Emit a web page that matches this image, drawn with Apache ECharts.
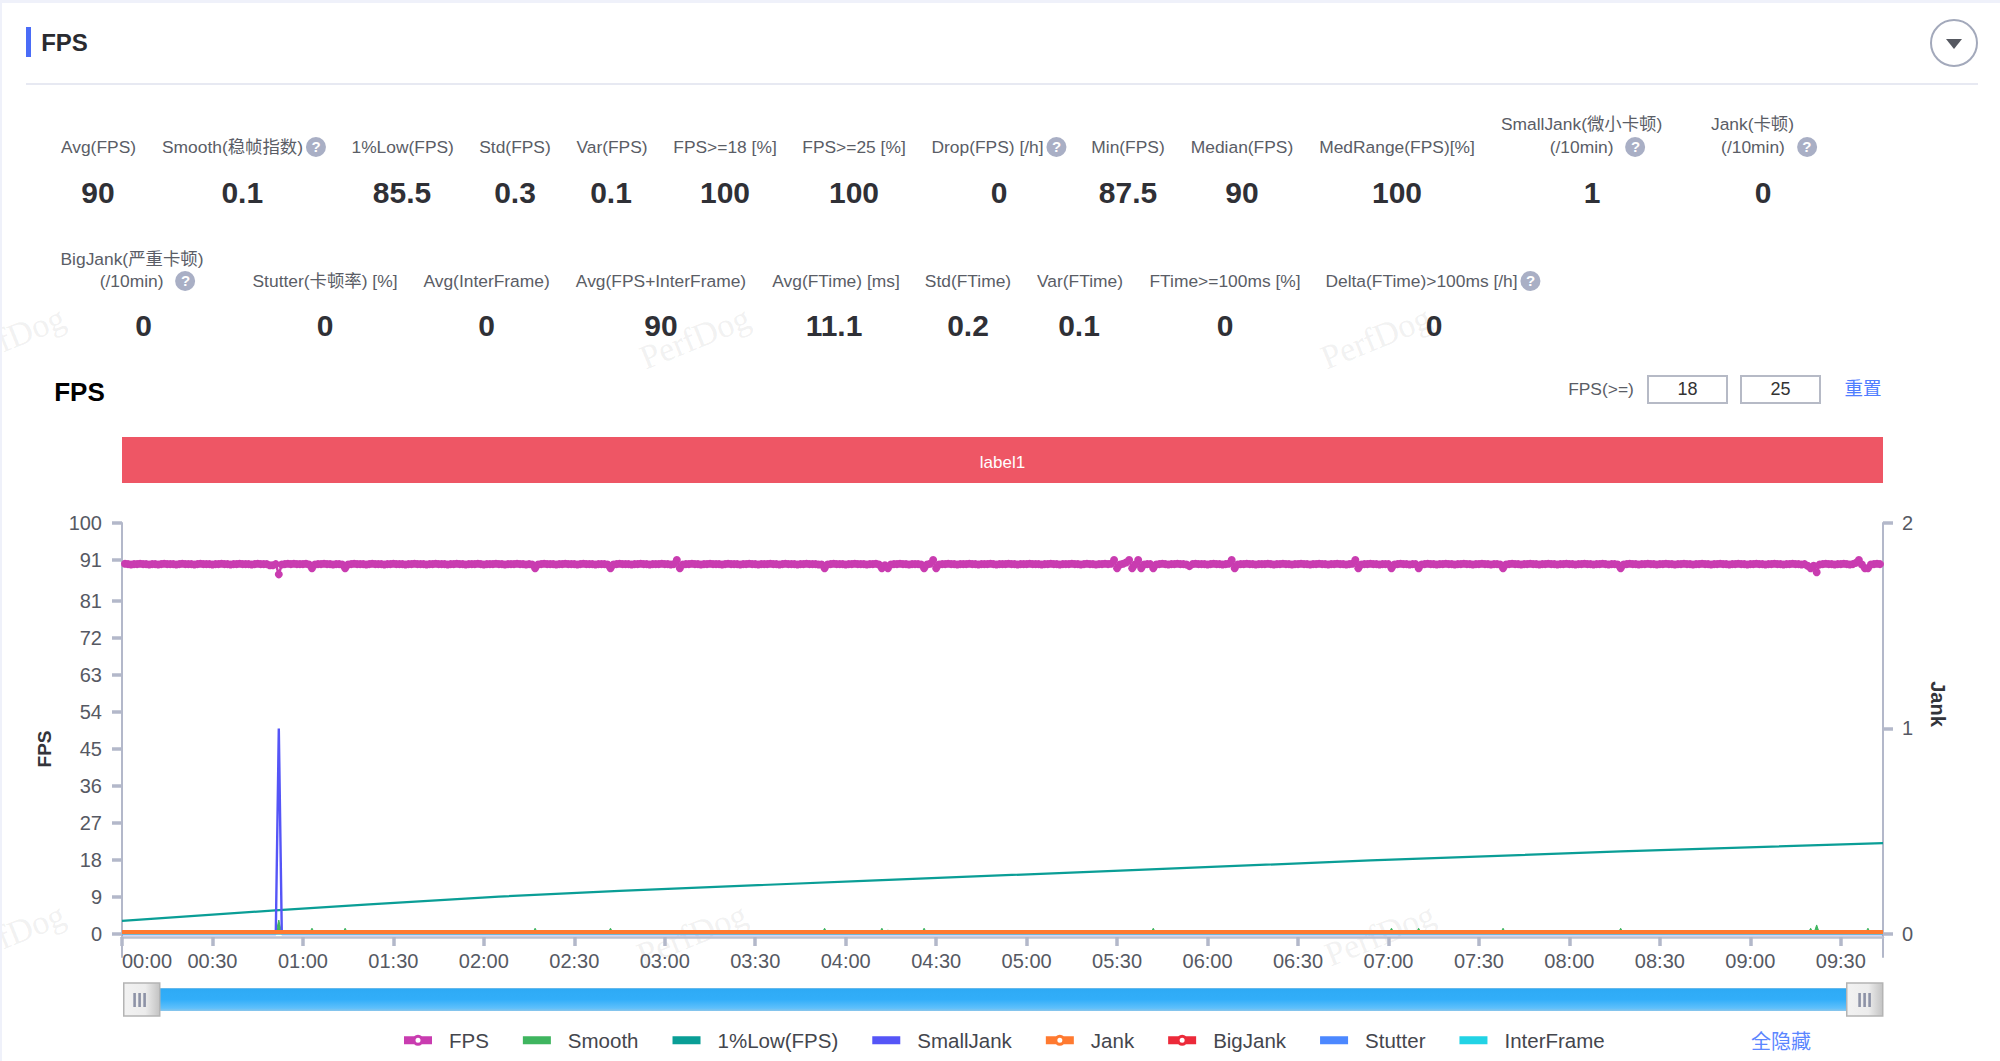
<!DOCTYPE html>
<html><head><meta charset="utf-8">
<script src="https://cdn.jsdelivr.net/npm/echarts@6/dist/echarts.min.js"></script>
<style>
html,body{margin:0;padding:0;background:#fff;width:2000px;height:1061px;overflow:hidden;font-family:"Liberation Sans","Noto Sans CJK SC",sans-serif}
#page{position:relative;width:2000px;height:1061px}
#chart{position:absolute;left:0;top:0;width:2000px;height:1061px}
.abs{position:absolute;white-space:pre}
.c{transform:translate(-50%,-50%)}
.lbl{font-size:17.4px;color:#5a5d66;line-height:20px}
.val{font-size:30px;font-weight:bold;color:#2f3036}
.help{display:inline-block;width:20px;height:20px;border-radius:50%;background:#a9afc5;color:#fff;font-size:15px;line-height:20px;text-align:center;font-weight:bold;vertical-align:top}
.wm{font-family:"Liberation Serif",serif;font-size:34px;color:rgba(120,120,120,.11);transform:translate(-50%,-50%) rotate(-22deg)}
.box{border:2px solid #b6bac6;box-sizing:border-box;text-align:center;font-size:18px;color:#333;line-height:25px}
</style></head><body><div id="page"><div id="chart"></div></div>
<script>
// ---- panel text ----
const row1Labels=["Avg(FPS)","Smooth(稳帧指数)?","1%Low(FPS)","Std(FPS)","Var(FPS)","FPS>=18 [%]","FPS>=25 [%]","Drop(FPS) [/h]?","Min(FPS)","Median(FPS)","MedRange(FPS)[%]","SmallJank(微小卡顿)\n(/10min)?","Jank(卡顿)\n(/10min)?"];
const row1Values=["90","0.1","85.5","0.3","0.1","100","100","0","87.5","90","100","1","0"];
const row2Labels=["BigJank(严重卡顿)\n(/10min)?","Stutter(卡顿率) [%]","Avg(InterFrame)","Avg(FPS+InterFrame)","Avg(FTime) [ms]","Std(FTime)","Var(FTime)","FTime>=100ms [%]","Delta(FTime)>100ms [/h]?"];
const row2Values=["0","0","0","90","11.1","0.2","0.1","0","0"];
const thresholdValues=["18","25"];
// ---- chart data ----
const timeTicks=["00:00","00:30","01:00","01:30","02:00","02:30","03:00","03:30","04:00","04:30","05:00","05:30","06:00","06:30","07:00","07:30","08:00","08:30","09:00","09:30"];
const timeTickSeconds=[0,30,60,90,120,150,180,210,240,270,300,330,360,390,420,450,480,510,540,570];
const fpsTicks=[0,9,18,27,36,45,54,63,72,81,91,100];
const jankTicks=[0,1,2];
const durationSeconds=584;
const laneNames=["label1"];
const laneValues=[584];
// one FPS reading per second, ten per row
const fpsValues=[
90,90.1,90,89.9,90,90,90.1,90,90,89.9,
90,90,89.9,90,90.1,90,90,90,89.9,90,
90.1,90,90,90,89.9,90,90.1,90,90,90,
89.9,90,90,90.1,90,90,89.9,90,90,90.1,
90,90,90,89.9,90,90.1,90,90,90,89.7,
89.7,90,87.5,89.9,90,90.1,90,90.1,90,90,
90,90.1,89.9,89,89.9,90,90,90.1,90,90,
89.9,90,90,89.9,89,89.9,90,90.1,90,90,
90,89.9,90,90.1,90,90,90,89.9,90,90,
90.1,90,90,90,89.9,90,90,90.1,90,90,
90,89.9,90,90,90.1,90,90,90,89.9,90,
90,90.1,90,90,89.9,90,90,90,90.1,90,
89.9,90,90,90,90.1,90,90,89.9,90,90,
90,90.1,90,90,89.9,90,89.9,89,89.9,90,
90.1,90,90,90,89.9,90,90,90.1,90,90,
90,89.9,90,90.1,90,90,90,89.9,90,90,
90,89.9,89,89.9,90,90.1,90,90,90,89.9,
90,90,90.1,90,90,89.9,90,90,90,90.1,
90,90,89.9,90,91,89,89.9,90,90,90.1,
90,90,89.9,90,90,90.1,90,90,90,89.9,
90,90.1,90,90,90,89.9,90,90,90.1,90,
90,89.9,90,90,90,90.1,90,90,89.9,90,
90.1,90,90,90,89.9,90,90,90.1,90,90,
90,89.9,89.9,89,89.9,90,90.1,90,90,90,
89.9,90,90,90.1,90,90,90,89.9,90,90,
90.1,89.9,89,89.7,89,89.9,90,90,90.1,90,
90,89.9,90,90,90,89.9,89,89.9,90.1,91,
89,89.9,90,90,90.1,90,90,89.9,90,90,
90,90.1,90,90,89.9,90,90,90,90.1,90,
89.9,90,90,90,90.1,90,90,89.9,90,90,
90,90.1,90,90,90,89.9,90,90,90.1,90,
90,89.9,90,90,90,90.1,90,90,89.9,90,
90.1,90,90,89.9,90,90,90.1,90,90.1,91,
89,89.9,90.1,90.4,91,89,89.9,91,89,89.9,
90,90,89,89.9,90,90.1,90,89.9,90,90,
90.1,90,90,89.9,89.5,90,90.1,90,90,90,
89.9,90,90.1,90,90,89.9,90,90.1,91,89,
89.9,90,90,90.1,90,90,89.9,90,90,90,
90.1,90,89.9,90,90,90.1,90,90,89.9,90,
90,90.1,90,90,89.9,90,90,90.1,90,90,
89.9,90,90,90.1,90,90,89.9,90,90.1,91,
89,89.9,90,90,90.1,90,90,89.9,90,90,
90,89,89.9,90,90.1,90,90,89.9,90,90,
89,89.9,90,90.1,90,90,89.9,90,90,90.1,
90,90,89.9,90,90,90.1,90,90,89.9,90,
90,90.1,90,90,89.9,90,90,89.9,89,89.9,
90,90.1,90,90,89.9,90,90,90.1,90,90,
89.9,90,90,90.1,90,90,89.9,90,90,90.1,
90,90,89.9,90,90,90.1,90,90,89.9,90,
90,90.1,90,89.9,90,90,89.9,89,89.9,90,
90.1,90,90,89.9,90,90,90.1,90,90,89.9,
90,90,90.1,90,90,89.9,90,90,90.1,90,
90,89.9,90,90,90.1,90,90,89.9,90,90,
90.1,90,90,89.9,90,90,90.1,90,90,89.9,
90,90,90.1,90,90,89.9,90,90,90.1,90,
90,89.9,90,90,90.1,90,90,89.9,90,89.6,
89,89.6,88,89.9,90,90.1,90,90,89.9,90,
90,90.1,90,89.9,90,90.3,91,89.9,89,89,
89.9,90,90.1,90,90
];
const smoothPoints=[[0,0],[51,0],[52,3.4],[53,0],[62,0],[63,1.4],[64,0],[73,0],[74,1.4],[75,0],[136,0],[137,1.4],[138,0],[161,0],[162,1.4],[163,0],[232,0],[233,1.4],[234,0],[251,0],[252,1.4],[253,0],[253,0],[254,1],[255,0],[265,0],[266,1.4],[267,0],[341,0],[342,1.4],[343,0],[420,0],[421,1.4],[422,0],[429,0],[430,1.4],[431,0],[457,0],[458,1.4],[459,0],[496,0],[497,1.4],[498,0],[559,0],[560,1.4],[561,0],[561,0],[562,2.2],[563,0],[578,0],[579,1.4],[580,0],[584,0]];
const lowPoints=[[0,3.2],[52,5.8],[82,7.2],[125,9.1],[165,10.5],[248,13],[331,15.4],[414,17.9],[497,20.1],[584,22.1]];
const smallJankPoints=[[0,0],[51,0],[52,1],[53,0],[584,0]];
const jankPoints=[[0,0.01],[584,0.01]];
const bigJankPoints=[[0,0],[584,0]];
const stutterPoints=[[0,0],[584,0]];
const interFramePoints=[[0,0],[584,0]];
const legendNames=["FPS","Smooth","1%Low(FPS)","SmallJank","Jank","BigJank","Stutter","InterFrame"];
// ---- colours ----
const C={fps:"#c93cb0",smooth:"#3fb55f",low:"#0a9e96",small:"#5555f7",jank:"#ff7a30",big:"#ec2a3a",stutter:"#4c88ff",inter:"#22d3e5",axis:"#b3b8ca",lab:"#565963"};

// ---- page furniture (HTML) ----
const page=document.getElementById('page');
function add(cls,x,y,html,css){const d=document.createElement('div');d.className='abs '+cls;d.style.left=x+'px';d.style.top=y+'px';d.innerHTML=html;if(css)d.style.cssText+=css;page.insertBefore(d,page.firstChild);return d}
const helpIcon='<span class="help">?</span>';
function lineHtml(t,gap){return t.endsWith('?')?t.slice(0,-1).replace(/</g,'&lt;')+'<span style="margin-left:'+gap+'px"></span>'+helpIcon:t.replace(/</g,'&lt;')}
function statRow(labels,values,labelCx,line2Cx,valueCx,y1,y2a,y2b,yVal){
 labels.forEach((t,i)=>{const p=t.split('\n');
  if(p.length===1)add('lbl c',labelCx[i],y1,lineHtml(p[0],3));
  else{add('lbl c',labelCx[i],y2a,p[0]);add('lbl c',line2Cx[i],y2b,lineHtml(p[1],12));}
  add('val c',valueCx[i],yVal,values[i]);});
}
statRow(row1Labels,row1Values,
 [98.5,244,402.7,515,612,725,854,999,1128,1242,1397,1581.6,1752.5],
 [0,0,0,0,0,0,0,0,0,0,0,1597.6,1769],
 [98,242.3,402,515,611,725,854,999,1128,1242,1397,1592,1763],147,124,147,192.7);
statRow(row2Labels,row2Values,
 [132,325,486.6,661,836,968,1080,1225,1433],
 [147.6,0,0,0,0,0,0,0,0],
 [143.5,325,486.6,661,834,968,1079,1225,1434],281,258.5,281,326);
add('','0','0','','width:2000px;height:3px;background:#eff1fa');
add('','0','0','','width:2px;height:1061px;background:#eff1fa');
add('','26','27','','width:5px;height:30px;background:#4a6cf7');
add('c','64.5','43','FPS','font-size:24px;font-weight:bold;color:#2a2b30');
add('','26','83','','width:1952px;height:2px;background:#e7e9f2');
add('','1929.5','19','','width:48px;height:48px;box-sizing:border-box;border:2px solid #a3a9bb;border-radius:50%');
add('','1945.5','39','','width:0;height:0;border-left:8px solid transparent;border-right:8px solid transparent;border-top:10px solid #555860');
add('c','79.5','391.7','FPS','font-size:26px;font-weight:bold;color:#000');
add('lbl c','1601','389','FPS(&gt;=)');
add('box','1647','375',thresholdValues[0],'width:81px;height:29px');
add('box','1740','375',thresholdValues[1],'width:81px;height:29px');
add('lbl c','1863','389','重置','color:#4f7dff;font-size:18.5px');
add('c','1781','1040','全隐藏','font-size:20px;color:#5b86ff');
[[10,338],[695,338],[1376,338],[10,935],[692,935],[1380,935]].forEach(p=>add('wm',p[0],p[1],'PerfDog'));

// ---- chart ----
const pairs=fpsValues.map((v,i)=>[i,v]);
const plainIcon='path://M0 0L0 11M0 1.5H28V9.5H0Z';
const dotIcon='path://M0 1.5H28V9.5H0ZM8.5 5.5A5.5 5.5 0 1 1 19.5 5.5A5.5 5.5 0 1 1 8.5 5.5ZM11.5 5.5A2.5 2.5 0 1 0 16.5 5.5A2.5 2.5 0 1 0 11.5 5.5ZM11.5 5.5A2.5 2.5 0 1 0 16.5 5.5A2.5 2.5 0 1 0 11.5 5.5Z';
const legendIcons=[dotIcon,plainIcon,plainIcon,plainIcon,dotIcon,dotIcon,plainIcon,plainIcon];
const grips=[134.5,139.5,144.5,1859.5,1864.5,1869.5].map(x=>({type:'rect',x:x-1.2,y:993,z:100,shape:{width:2.6,height:14},style:{fill:'#8d92a6'},silent:true}));
const chart=echarts.init(document.getElementById('chart'),null,{renderer:'svg',width:2000,height:1061});
const axisStyle={lineStyle:{color:C.axis,width:2}};
chart.setOption({
 animation:false,backgroundColor:'transparent',
 textStyle:{fontFamily:'"Liberation Sans","Noto Sans CJK SC",sans-serif'},
 grid:[{left:122,right:117,top:523,bottom:104},{left:122,right:117,top:437,height:46}],
 xAxis:[
  {type:'value',gridIndex:0,min:0,max:durationSeconds,position:'bottom',offset:-20,
   axisLine:{onZero:false,show:true,lineStyle:{color:'#bcc1d1',width:2.5}},
   axisTick:{show:true,length:9,lineStyle:{color:C.axis,width:3.5},customValues:timeTickSeconds},
   axisLabel:{fontSize:20,color:C.lab,margin:14,alignMinLabel:'left',customValues:timeTickSeconds,formatter:v=>timeTicks[timeTickSeconds.indexOf(v)]||''},
   splitLine:{show:false}},
  {type:'value',gridIndex:1,min:0,max:durationSeconds,show:false}],
 yAxis:[
  {type:'value',gridIndex:0,min:-5.6,max:100,position:'left',name:'FPS',nameLocation:'middle',nameGap:68,nameRotate:90,
   nameTextStyle:{fontSize:19,fontWeight:'bold',color:'#33343a',padding:[0,18,0,0]},
   axisLine:{show:true,...axisStyle},axisTick:{show:true,length:10,lineStyle:{color:C.axis,width:3.5},customValues:fpsTicks},
   axisLabel:{fontSize:20,color:C.lab,margin:20,customValues:fpsTicks},splitLine:{show:false}},
  {type:'value',gridIndex:0,min:-0.112,max:2,position:'right',name:'Jank',nameLocation:'middle',nameGap:45,nameRotate:-90,
   nameTextStyle:{fontSize:20,fontWeight:'bold',color:'#33343a',padding:[0,72,0,0]},
   axisLine:{show:true,...axisStyle},axisTick:{show:true,length:10,lineStyle:{color:C.axis,width:3.5},customValues:jankTicks},
   axisLabel:{fontSize:20,color:C.lab,margin:19,customValues:jankTicks},splitLine:{show:false}},
  {type:'category',gridIndex:1,data:laneNames,show:false}],
 legend:{left:399,top:1025,itemWidth:28,itemHeight:11,itemGap:34,selectedMode:false,
  textStyle:{fontSize:20.5,color:'#44464d',padding:[0,0,0,12]},
  data:legendNames.map((n,i)=>({name:n,icon:legendIcons[i]}))},
 dataZoom:[{type:'slider',xAxisIndex:0,filterMode:'none',left:139,right:136,top:988,height:23,start:0,end:100,
  showDetail:false,showDataShadow:false,brushSelect:false,moveHandleSize:0,
  backgroundColor:'transparent',borderColor:'transparent',
  fillerColor:{type:'linear',x:0,y:0,x2:0,y2:1,colorStops:[{offset:0,color:'#8cc6ea'},{offset:.12,color:'#5fc0fb'},{offset:.5,color:'#32aef9'},{offset:.95,color:'#2eaaf5'},{offset:1,color:'#8fc4e4'}]},
  handleIcon:'path://M0 0H36V33H0Z',handleSize:'156.5%',
  handleStyle:{color:{type:'linear',x:0,y:0,x2:1,y2:0,colorStops:[{offset:0,color:'#f2f2f2'},{offset:.6,color:'#ececec'},{offset:1,color:'#c3c3c3'}]},borderColor:'#b4b4b4',borderWidth:1.5},
  emphasis:{handleStyle:{borderColor:'#b4b4b4'}}}],
 graphic:grips,
 series:[
  {name:'label1',type:'bar',xAxisIndex:1,yAxisIndex:2,data:laneValues,barWidth:'100%',silent:true,
   itemStyle:{color:'#ee5665'},label:{show:true,position:'inside',offset:[0,2],formatter:'{b}',color:'#fff',fontSize:17}},
  {name:'FPS',type:'line',xAxisIndex:0,yAxisIndex:0,data:pairs,symbol:'circle',symbolSize:v=>(v[0]===0||v[0]===durationSeconds)?0:8,showSymbol:true,showAllSymbol:true,
   lineStyle:{color:C.fps,width:2.5},itemStyle:{color:C.fps},z:3},
  {name:'Smooth',type:'line',xAxisIndex:0,yAxisIndex:0,data:smoothPoints,symbol:'none',lineStyle:{color:C.smooth,width:1},areaStyle:{color:C.smooth,opacity:1},itemStyle:{color:C.smooth},z:2},
  {name:'1%Low(FPS)',type:'line',xAxisIndex:0,yAxisIndex:0,data:lowPoints,symbol:'none',lineStyle:{color:C.low,width:2.2},itemStyle:{color:C.low},z:2},
  {name:'SmallJank',type:'line',xAxisIndex:0,yAxisIndex:1,data:smallJankPoints,symbol:'none',lineStyle:{color:C.small,width:2.4},itemStyle:{color:C.small},z:2},
  {name:'BigJank',type:'line',xAxisIndex:0,yAxisIndex:1,data:bigJankPoints,symbol:'none',lineStyle:{color:C.big,width:1},itemStyle:{color:C.big},z:2},
  {name:'Stutter',type:'line',xAxisIndex:0,yAxisIndex:0,data:stutterPoints,symbol:'none',lineStyle:{color:C.stutter,width:1},itemStyle:{color:C.stutter},z:2},
  {name:'InterFrame',type:'line',xAxisIndex:0,yAxisIndex:0,data:interFramePoints,symbol:'none',lineStyle:{color:'#6fd8d8',width:1.5},itemStyle:{color:C.inter},z:2},
  {name:'Jank',type:'line',xAxisIndex:0,yAxisIndex:1,data:jankPoints,symbol:'none',lineStyle:{color:C.jank,width:4},itemStyle:{color:C.jank},z:4}
 ]
});
</script></body></html>
